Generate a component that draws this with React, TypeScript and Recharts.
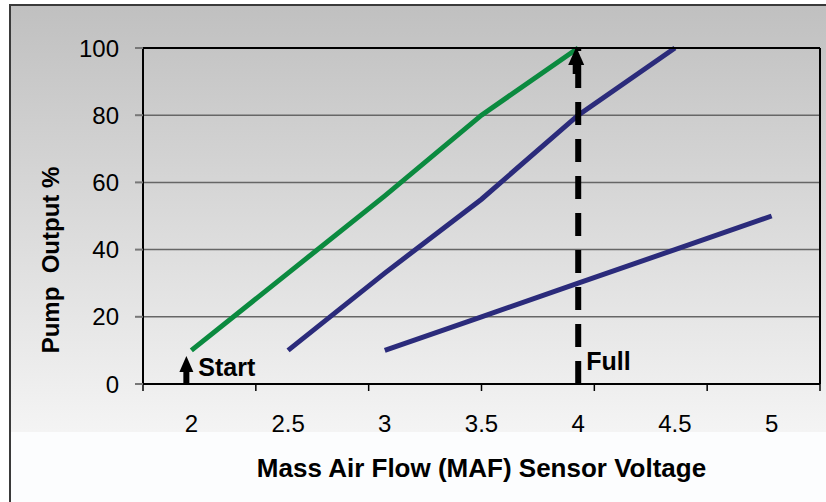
import React from 'react';
import { LineChart, Line, XAxis, YAxis, CartesianGrid, ReferenceLine, ReferenceDot } from 'recharts';

const categories = ['2', '2.5', '3', '3.5', '4', '4.5', '5'];
const greenValues = [10, 33, 56, 80, 100, null, null];
const blueValues = [null, 10, 33, 55, 80, 100, null];
const blue2Values = [null, null, 10, 20, 30, 40, 50];
const yTicks = [0, 20, 40, 60, 80, 100];
const boundaryTicks = [0, 1, 2, 3, 4, 5, 6, 7];

const data = categories.map((c, i) => ({
  x: c,
  green: greenValues[i],
  blue1: blueValues[i],
  blue2: blue2Values[i],
}));

const FONT = '"Liberation Sans", Arial, sans-serif';

const StartArrow = (props: any) => {
  const { cx, cy } = props;
  const ax = cx - 5;
  return (
    <g>
      <polygon points={`${ax},${cy - 28} ${ax - 7},${cy - 12} ${ax + 7},${cy - 12}`} fill="#000" />
      <rect x={ax - 3} y={cy - 13} width={6} height={13} fill="#000" />
      <text x={cx + 7} y={cy - 8} fontFamily={FONT} fontWeight="bold" fontSize={25} fill="#000">Start</text>
    </g>
  );
};

const FullHead = (props: any) => {
  const { cx, cy } = props;
  const ax = cx - 2;
  return (
    <g>
      <polygon points={`${ax},${cy - 1} ${ax - 8},${cy + 17} ${ax + 8},${cy + 17}`} fill="#000" />
      <rect x={ax - 3.5} y={cy + 16} width={7} height={10} fill="#000" />
    </g>
  );
};

const FullLabel = (props: any) => {
  const { cx, cy } = props;
  return (
    <text x={cx + 8} y={cy - 14} fontFamily={FONT} fontWeight="bold" fontSize={25} fill="#000">Full</text>
  );
};

const EmptyTick = (): any => <g />;

const YTitle = (props: any) => {
  const vb = props.viewBox || { x: 0, y: 48, width: 143, height: 336 };
  const cx = vb.x + 50;
  const cy = vb.y + vb.height / 2 + 44;
  return (
    <text
      x={cx}
      y={cy}
      transform={`rotate(-90 ${cx} ${cy})`}
      textAnchor="middle"
      dominantBaseline="central"
      fontFamily={FONT}
      fontWeight="bold"
      fontSize={24}
      fill="#000"
      style={{ whiteSpace: 'pre' }}
    >
      {'Pump  Output %'}
    </text>
  );
};

export default function App() {
  return (
    <div style={{ position: 'absolute', left: 0, top: 0, width: 826, height: 502, background: '#fff', overflow: 'hidden' }}>
      <div
        style={{
          position: 'absolute', left: 9, top: 4, right: 0, height: 426,
          borderTop: '2px solid #3a3a3a', borderLeft: '2px solid #3a3a3a',
          background: 'linear-gradient(#c0c0c0, #f4f4f4)',
        }}
      />
      <div style={{ position: 'absolute', left: 9, top: 432, right: 0, bottom: 0, borderLeft: '2px solid #3a3a3a', background: '#fcfdfe' }} />
      <div style={{ position: 'absolute', left: 0, top: 0 }}>
        <LineChart
          width={826}
          height={502}
          data={data}
          margin={{ top: 47, right: 5, bottom: 0, left: 0 }}
          style={{ fontFamily: FONT }}
        >
          <CartesianGrid xAxisId="cat" vertical={false} stroke="#666" strokeWidth={1.5} />
          <XAxis
            xAxisId="a"
            type="number"
            domain={[0, 7]}
            ticks={boundaryTicks}
            interval={0}
            height={1}
            tick={EmptyTick}
            tickSize={7}
            tickLine={{ stroke: '#000', strokeWidth: 1.5 }}
            axisLine={{ stroke: '#000', strokeWidth: 2 }}
            allowDataOverflow
          />
          <XAxis
            xAxisId="cat"
            dataKey="x"
            scale="band"
            height={117}
            tickLine={false}
            axisLine={false}
            tickSize={0}
            tickMargin={30}
            interval={0}
            tick={{ fill: '#000', fontSize: 24, fontFamily: FONT }}
            label={{ value: 'Mass Air Flow (MAF) Sensor Voltage', position: 'insideBottom', offset: 25, style: { fontWeight: 'bold', fontSize: 26, fill: '#000', fontFamily: FONT } }}
          />
          <XAxis xAxisId="top" orientation="top" height={1} tick={false} tickLine={false} axisLine={{ stroke: '#000', strokeWidth: 2 }} />
          <YAxis
            domain={[0, 100]}
            ticks={yTicks}
            width={143}
            tickSize={8}
            tickMargin={16}
            tickLine={{ stroke: '#777', strokeWidth: 2 }}
            axisLine={{ stroke: '#000', strokeWidth: 2 }}
            tick={{ fill: '#000', fontSize: 24, fontFamily: FONT }}
            label={{ content: <YTitle /> } as any}
          />
          <YAxis yAxisId="right" orientation="right" width={1} tick={false} tickLine={false} axisLine={{ stroke: '#000', strokeWidth: 2 }} />
          <Line xAxisId="cat" type="linear" dataKey="green" stroke="#0b8a3f" strokeWidth={5} dot={false} isAnimationActive={false} />
          <Line xAxisId="cat" type="linear" dataKey="blue1" stroke="#2b2b7b" strokeWidth={5} dot={false} isAnimationActive={false} />
          <Line xAxisId="cat" type="linear" dataKey="blue2" stroke="#2b2b7b" strokeWidth={5} dot={false} isAnimationActive={false} />
          <ReferenceLine xAxisId="cat" x="4" stroke="#000" strokeWidth={6} strokeDasharray="23 14" />
          <ReferenceDot xAxisId="cat" x="4" y={100} r={0} shape={<FullHead />} />
          <ReferenceDot xAxisId="cat" x="4" y={0} r={0} shape={<FullLabel />} />
          <ReferenceDot xAxisId="cat" x="2" y={0} r={0} shape={<StartArrow />} />
        </LineChart>
      </div>
    </div>
  );
}
